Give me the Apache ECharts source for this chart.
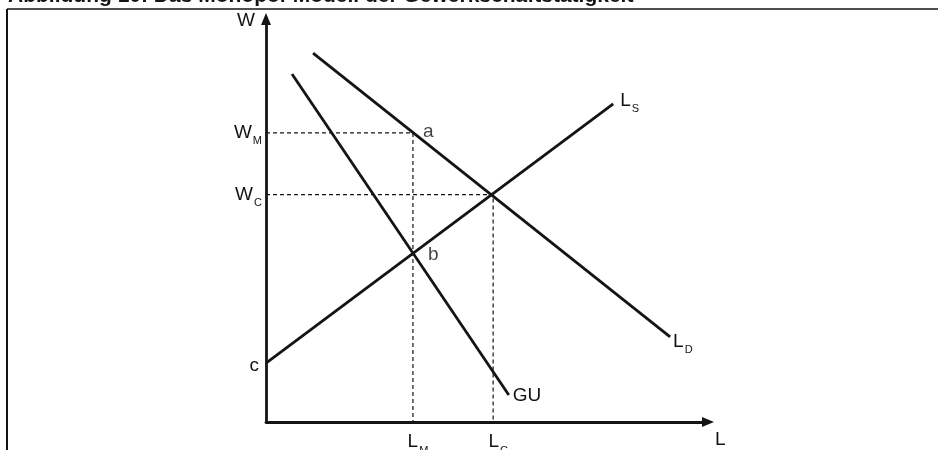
<!DOCTYPE html>
<html>
<head>
<meta charset="utf-8">
<script src="https://cdn.jsdelivr.net/npm/echarts@6/dist/echarts.min.js"></script>
<style>
html, body { margin: 0; padding: 0; background: #fff; }
#main { width: 943px; height: 450px; }
</style>
</head>
<body>
<div id="main"></div>
<script>
// Kurven (jeweils Anfangs- und Endpunkt)
var ldX = [10.5, 90.2], ldY = [90.2, 20.8];   // Arbeitsnachfrage L_D
var lsX = [0, 77.5],    lsY = [14.4, 77.8];   // Arbeitsangebot L_S
var guX = [5.8, 54.2],  guY = [85.1, 6.6];    // Grenzumsatz GU
// Monopol- (M) und Wettbewerbslösung (C)
var levelNames = ['M', 'C'];
var wageLevels = [70.7, 55.6];
var employLevels = [32.8, 50.7];
// markierte Punkte
var pointNames = ['a', 'b'];
var pointX = [32.8, 32.8];
var pointY = [70.7, 41.3];
var xMax = 98.66, yMax = 98.53;

var FONT = '"Liberation Sans", Arial, sans-serif';
var INK = '#141414';

var rich = {
    m: { fontSize: 19, fontFamily: FONT, color: INK, lineHeight: 20 },
    s: { fontSize: 11, fontFamily: FONT, color: INK, lineHeight: 11, padding: [17, 0, 0, 1] }
};

function sub(main, s) {
    return '{m|' + main + '}{s|' + s + '}';
}

function curve(name, xs, ys, endLabel, startLabel) {
    var first = { value: [xs[0], ys[0]] };
    var last = { value: [xs[1], ys[1]] };
    if (startLabel) first.label = startLabel;
    if (endLabel) last.label = endLabel;
    return {
        name: name,
        type: 'line',
        z: 5,
        symbol: 'circle',
        symbolSize: 0,
        lineStyle: { color: INK, width: 2.8 },
        itemStyle: { color: INK },
        data: [first, last]
    };
}

var series = [];

// gestrichelte Hilfslinien
levelNames.forEach(function (n, i) {
    series.push({
        name: 'level' + n,
        type: 'line',
        z: 2,
        symbol: 'circle',
        symbolSize: 0,
        lineStyle: { color: INK, width: 1.2, type: [4, 3] },
        data: [
            { value: [0, wageLevels[i]],
              label: { show: true, position: 'left', distance: 4, formatter: sub('W', n), rich: rich } },
            [employLevels[i], wageLevels[i]],
            { value: [employLevels[i], 0],
              label: { show: true, position: 'bottom', distance: 10, offset: [5, 0], formatter: sub('L', n), rich: rich } }
        ]
    });
});

series.push(curve('LD', ldX, ldY,
    { show: true, position: 'right', distance: 3, offset: [0, 5], formatter: sub('L', 'D'), rich: rich }));
series.push(curve('LS', lsX, lsY,
    { show: true, position: 'right', distance: 7, offset: [0, -3], formatter: sub('L', 'S'), rich: rich },
    { show: true, position: 'left', distance: 7, offset: [0, 3], formatter: 'c',
      fontSize: 19, fontFamily: FONT, color: INK }));
series.push(curve('GU', guX, guY,
    { show: true, position: 'right', distance: 4, offset: [0, 1], formatter: 'GU',
      fontSize: 19, fontFamily: FONT, color: INK }));

series.push({
    name: 'points',
    type: 'scatter',
    z: 6,
    symbolSize: 0,
    data: pointNames.map(function (n, i) {
        return {
            value: [pointX[i], pointY[i]],
            label: {
                show: true, position: 'right', formatter: n,
                distance: i === 0 ? 10 : 15, offset: [0, i === 0 ? -1 : 2],
                fontSize: 19, fontFamily: FONT, color: INK
            }
        };
    })
});

var chart = echarts.init(document.getElementById('main'));
chart.setOption({
    animation: false,
    backgroundColor: '#fff',
    grid: { left: 266, right: 235, top: 19, bottom: 28, containLabel: false, outerBoundsMode: 'none' },
    xAxis: {
        type: 'value', min: 0, max: xMax,
        name: 'L', nameLocation: 'end', nameGap: 7,
        nameTextStyle: { fontSize: 19, fontFamily: FONT, color: INK, align: 'left', verticalAlign: 'top', lineHeight: 36 },
        axisLine: { show: true, symbol: ['none', 'triangle'], symbolSize: [10, 12],
                    lineStyle: { color: INK, width: 2.8 } },
        axisTick: { show: false }, axisLabel: { show: false }, splitLine: { show: false }
    },
    yAxis: {
        type: 'value', min: 0, max: yMax,
        name: 'W', nameLocation: 'end', nameGap: -2,
        nameTextStyle: { fontSize: 19, fontFamily: FONT, color: INK, align: 'right', verticalAlign: 'middle', padding: [0, 11, 0, 0] },
        axisLine: { show: true, symbol: ['none', 'triangle'], symbolSize: [10, 12],
                    lineStyle: { color: INK, width: 2.8 } },
        axisTick: { show: false }, axisLabel: { show: false }, splitLine: { show: false }
    },
    graphic: [
        { type: 'text', x: 8, y: 7, silent: true,
          style: { text: 'Abbildung 10: Das Monopol-Modell der Gewerkschaftstätigkeit',
                   font: 'bold 21px "Liberation Sans", Arial, sans-serif', fill: INK, verticalAlign: 'bottom' } },
        { type: 'line', silent: true, shape: { x1: 7, y1: 9, x2: 938, y2: 9 }, style: { stroke: INK, lineWidth: 1.5 } },
        { type: 'line', silent: true, shape: { x1: 7, y1: 9, x2: 7, y2: 450 }, style: { stroke: INK, lineWidth: 2 } }
    ],
    series: series
});
</script>
</body>
</html>
